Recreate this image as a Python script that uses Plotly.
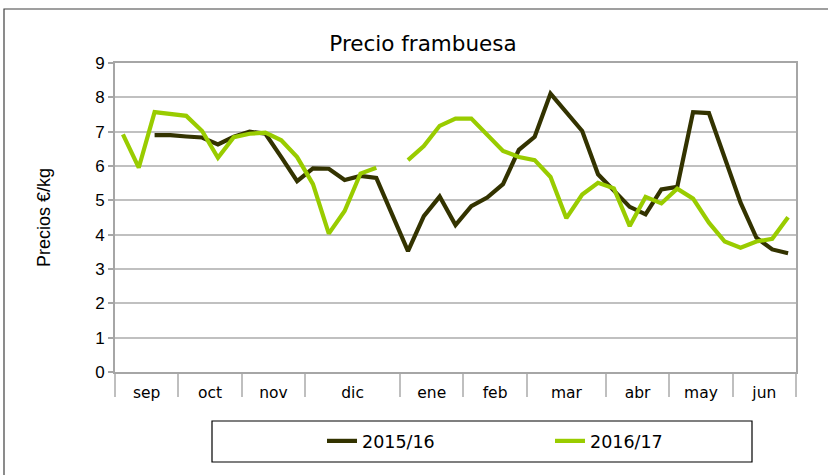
import plotly.graph_objects as go

# Data
months = ["sep", "oct", "nov", "dic", "ene", "feb", "mar", "abr", "may", "jun"]
weeks_per_month = [4, 4, 4, 6, 4, 4, 5, 4, 4, 4]

s2015 = [None, None, 6.90, 6.90, 6.86, 6.83, 6.63, 6.85, 7.00, 6.94,
         6.26, 5.56, 5.93, 5.92, 5.59, 5.71, 5.65, 4.59, 3.52, 4.54,
         5.11, 4.28, 4.83, 5.08, 5.47, 6.47, 6.85, 8.11, 7.55, 7.02,
         5.76, 5.29, 4.81, 4.59, 5.32, 5.39, 7.57, 7.54, 6.24, 4.93,
         3.91, 3.57, 3.46]
s2016 = [6.92, 5.95, 7.57, 7.52, 7.46, 7.02, 6.24, 6.84, 6.94, 6.97,
         6.75, 6.26, 5.47, 4.03, 4.69, 5.78, 5.95, None, 6.17, 6.58,
         7.17, 7.38, 7.38, 6.92, 6.44, 6.26, 6.17, 5.68, 4.48, 5.17,
         5.51, 5.35, 4.25, 5.10, 4.91, 5.34, 5.05, 4.35, 3.80, 3.62,
         3.80, 3.88, 4.51]

series_names = ["2015/16", "2016/17"]
colors = ["#333300", "#99cc00"]

n = len(s2015)
x = list(range(n))

# month boundaries and centers (category index space)
bounds = [-0.5]
for w in weeks_per_month:
    bounds.append(bounds[-1] + w)
centers = [(bounds[i] + bounds[i + 1]) / 2 for i in range(len(months))]

fig = go.Figure()
for name, vals, col in zip(series_names, [s2015, s2016], colors):
    fig.add_trace(go.Scatter(x=x, y=vals, mode="lines", name=name,
                             line=dict(color=col, width=4.2),
                             connectgaps=False))

W, H = 828, 475
L, R, T, B = 115, 796, 63, 372
pw, ph = R - L, B - T

def px(xp):
    return (xp - L) / pw

def py(yp):
    return (B - yp) / ph

xr = [-0.5, n - 0.5]
TF = "DejaVu Sans, sans-serif"
AF = "Liberation Sans, Arial, sans-serif"

fig.update_layout(
    width=W, height=H,
    margin=dict(l=L, r=W - R, t=T, b=H - B, autoexpand=False),
    paper_bgcolor="white", plot_bgcolor="white",
    font=dict(family=TF, color="#000000"),
    title=dict(text="Precio frambuesa", x=423 / W, xanchor="center",
               y=1 - 43 / H, yanchor="middle",
               font=dict(size=21.5, family=TF, color="#000")),
    showlegend=True,
    legend=dict(orientation="h", x=px(322), xanchor="left",
                y=py(441), yanchor="middle",
                entrywidth=183, entrywidthmode="pixels",
                font=dict(size=17.5, family=TF),
                bgcolor="rgba(0,0,0,0)", borderwidth=0),
    xaxis=dict(range=xr, tickmode="array", tickvals=bounds,
               ticktext=[""] * len(bounds), ticks="outside", ticklen=23,
               tickwidth=1.5, tickcolor="#bfbfbf",
               showgrid=False, zeroline=False,
               showline=True, linecolor="#a6a6a6", linewidth=2, mirror=True),
    xaxis2=dict(range=xr, overlaying="x", anchor="y", side="bottom",
                tickmode="array", tickvals=centers, ticktext=months,
                ticks="outside", ticklen=6, tickcolor="rgba(0,0,0,0)",
                tickfont=dict(size=15.5, family=TF),
                showgrid=False, zeroline=False, showline=False),
    yaxis=dict(range=[0, 9], dtick=1, tick0=0,
               ticks="outside", ticklen=5, tickcolor="#a6a6a6", tickwidth=1.5,
               tickfont=dict(size=17, family=AF),
               showgrid=True, gridcolor="#c0c0c0", gridwidth=1.5,
               zeroline=False,
               showline=True, linecolor="#a6a6a6", linewidth=2, mirror=True,
               title=dict(text="Precios €/kg", standoff=40,
                          font=dict(size=18, family=AF))),
)

# invisible trace on xaxis2 so that it is rendered
fig.add_trace(go.Scatter(x=[centers[0]], y=[None], xaxis="x2", showlegend=False,
                         hoverinfo="skip"))

# chart area border
fig.add_shape(type="rect", xref="paper", yref="paper",
              x0=px(4), x1=px(830), y0=py(480), y1=py(9),
              line=dict(color="#404040", width=1.2), layer="below")
# legend box
fig.add_shape(type="rect", xref="paper", yref="paper",
              x0=px(212), x1=px(752), y0=py(462), y1=py(421),
              line=dict(color="#000000", width=1.2))

fig.write_html("out.html",
               config={"displayModeBar": False},
               post_script="document.body.style.margin='0';"
                           "document.body.style.overflow='hidden';")
